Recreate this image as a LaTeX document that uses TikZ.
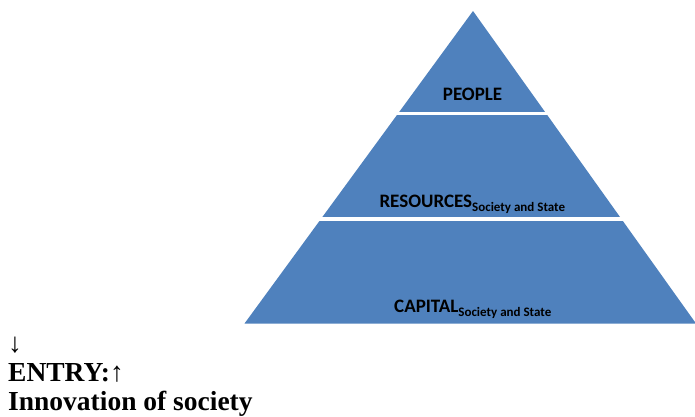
\documentclass[tikz,border=0pt]{standalone}
\usepackage{fontspec}
\setmainfont{Liberation Serif}
\newfontfamily\calib{Carlito}
\definecolor{pyrblue}{HTML}{4F81BD}
\tikzset{
  tierlabel/.style={anchor=base west,inner sep=0pt,font=\calib\bfseries\fontsize{19}{19}\selectfont},
  sidetext/.style={anchor=base west,inner sep=0pt,font=\bfseries\fontsize{27.5}{30}\selectfont}
}
\newcommand{\sublabel}[1]{\raisebox{-4.6pt}{\fontsize{13}{13}\selectfont #1}}
\begin{document}
\begin{tikzpicture}[x=1pt,y=-1pt]
            \useasboundingbox (0,0) rectangle (695,416);
            % pyramid
            \fill[pyrblue] (473,11) -- (244.5,323.5) -- (696,323.5) -- cycle;
            \draw[white,line width=3.4pt] (380,113.3) -- (570,113.3);
            \draw[white,line width=3.6pt] (300,219.2) -- (650,219.2);
            \node[tierlabel] (people) at (442.7,100.7) {PEOPLE};
            \node[tierlabel] (resources) at (379.3,207.3) {RESOURCES\sublabel{Society and State}};
            \node[tierlabel] (capital) at (394,312.3) {CAPITAL\sublabel{Society and State}};
            % text below left
            \node[sidetext] (down) at (8,352) {↓};
            \node[sidetext] (entry) at (8,381.5) {ENTRY:↑};
            \node[sidetext] (innov) at (8,410.5) {Innovation of society};
        \end{tikzpicture}
\end{document}
